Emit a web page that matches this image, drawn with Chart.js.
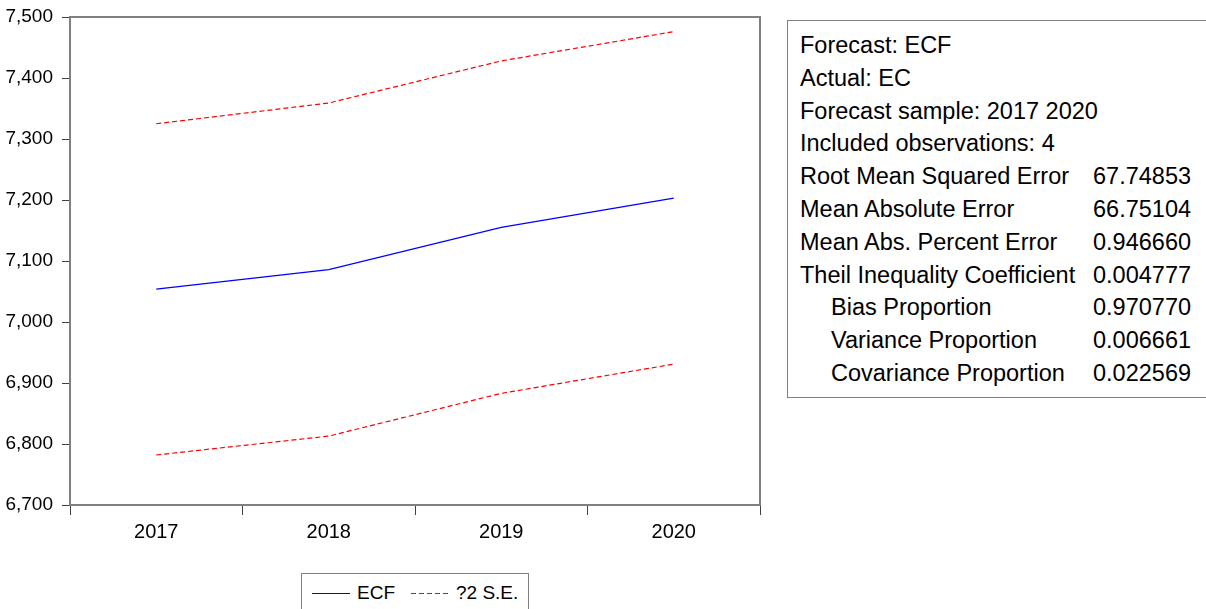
<!DOCTYPE html>
<html>
<head>
<meta charset="utf-8">
<script src="https://cdn.jsdelivr.net/npm/chart.js@4/dist/chart.umd.min.js"></script>
<style>
    body { margin: 0; background: #fff; width: 1206px; height: 609px; overflow: hidden; position: relative; }
    #chart { position: absolute; left: 0; top: 0; }
    .stats-box {
        position: absolute; left: 787px; top: 20px; width: 430px; height: 378px;
        border: 1px solid #808080; box-sizing: border-box;
        font-family: 'Liberation Sans', Arial, sans-serif; font-size: 23.5px; color: #000;
        padding-top: 8px; padding-left: 12px;
    }
    .stats-row { height: 32.8px; line-height: 32.8px; position: relative; white-space: nowrap; }
    .stats-row .val { position: absolute; left: 293px; }
    .stats-row.sub .lbl { padding-left: 31px; }
    .legend-box {
        position: absolute; left: 301px; top: 573px; width: 228px; height: 50px;
        border: 1px solid #808080; box-sizing: border-box; white-space: nowrap;
        font-family: 'Liberation Sans', Arial, sans-serif; font-size: 19px;
    }
    .legend-item { position: absolute; top: 7px; line-height: 24px; }
    .legend-line { position: absolute; top: 19px; width: 38px; height: 1px; }
</style>
</head>
<body>
<canvas id="chart" width="780" height="560"></canvas>

<div class="legend-box">
    <div class="legend-line" style="left: 10px; background: #0000ff;"></div>
    <div class="legend-item" style="left: 55px;">ECF</div>
    <div class="legend-line" style="left: 109px; background: repeating-linear-gradient(to right, #ff0000 0 5px, transparent 5px 8px);"></div>
    <div class="legend-item" style="left: 154px;">?2 S.E.</div>
</div>

<div class="stats-box" id="stats"></div>

<script>
// categories and series
const years = ['2017', '2018', '2019', '2020'];
const ecf = [7054, 7086, 7155, 7203];
const upperSE = [7325, 7359, 7428, 7476];
const lowerSE = [6782, 6813, 6883, 6931];

// forecast evaluation table
const statLabels = [
    'Forecast: ECF',
    'Actual: EC',
    'Forecast sample: 2017 2020',
    'Included observations: 4',
    'Root Mean Squared Error',
    'Mean Absolute Error',
    'Mean Abs. Percent Error',
    'Theil Inequality Coefficient',
    'Bias Proportion',
    'Variance Proportion',
    'Covariance Proportion'
];
const statValues = ['', '', '', '', '67.74853', '66.75104', '0.946660', '0.004777', '0.970770', '0.006661', '0.022569'];
const statIndented = [false, false, false, false, false, false, false, false, true, true, true];

const statsBox = document.getElementById('stats');
statsBox.innerHTML = statLabels.map((label, i) => `
    <div class="stats-row ${statIndented[i] ? 'sub' : ''}">
        <span class="lbl">${label}</span>
        ${statValues[i] ? `<span class="val">${statValues[i]}</span>` : ''}
    </div>
`).join('');

const fontFamily = "'Liberation Sans', Arial, sans-serif";

// draws the frame round the plot area
const frame = {
    id: 'frame',
    afterDraw(chart) {
        const { ctx, chartArea: a } = chart;
        ctx.save();
        ctx.strokeStyle = '#808080';
        ctx.lineWidth = 2;
        ctx.strokeRect(a.left, a.top, a.right - a.left, a.bottom - a.top);
        ctx.restore();
    }
};

new Chart(document.getElementById('chart'), {
    type: 'line',
    data: {
        labels: years,
        datasets: [
            { label: 'ECF', data: ecf, borderColor: '#0000ff', borderWidth: 1.2 },
            { label: '?2 S.E.', data: upperSE, borderColor: '#ff0000', borderWidth: 1.2, borderDash: [5, 3] },
            { label: '?2 S.E.', data: lowerSE, borderColor: '#ff0000', borderWidth: 1.2, borderDash: [5, 3] }
        ]
    },
    options: {
        responsive: false,
        animation: false,
        layout: { padding: { top: 17, right: 20, left: 0, bottom: 0 } },
        elements: { point: { radius: 0 }, line: { tension: 0 } },
        plugins: { legend: { display: false }, tooltip: { enabled: false } },
        scales: {
            x: {
                offset: true,
                afterFit: scale => { scale.height = 55; },
                grid: { offset: true, drawOnChartArea: false, tickLength: 10, color: '#404040', lineWidth: 1 },
                border: { color: '#808080', width: 2 },
                ticks: { font: { family: fontFamily, size: 20 }, color: '#000', padding: 5, maxRotation: 0 }
            },
            y: {
                min: 6700,
                max: 7500,
                afterFit: scale => {
                    scale.width = 70;
                    scale.paddingTop = 0;
                    scale.paddingBottom = 0;
                },
                grid: { drawOnChartArea: false, tickLength: 8, color: '#404040', lineWidth: 1 },
                border: { color: '#808080', width: 2 },
                ticks: {
                    stepSize: 100,
                    font: { family: fontFamily, size: 19 },
                    color: '#000',
                    padding: 9,
                    callback: v => v.toLocaleString('en-US')
                }
            }
        }
    },
    plugins: [frame]
});
</script>
</body>
</html>
